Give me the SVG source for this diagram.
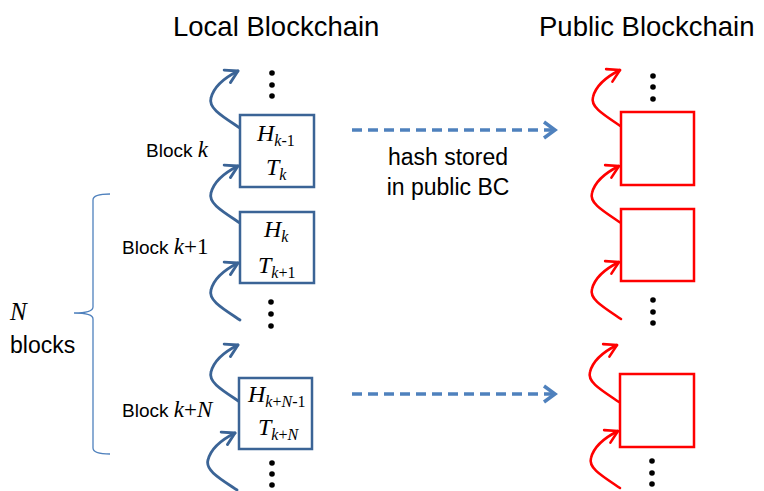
<svg xmlns="http://www.w3.org/2000/svg" width="764" height="491" viewBox="0 0 764 491">
<style>
.title{font-family:"Liberation Sans",Arial,sans-serif;font-size:27.5px;fill:#000}
.lbl{font-family:"Liberation Sans",Arial,sans-serif;font-size:19px;fill:#000}
.note{font-family:"Liberation Sans",Arial,sans-serif;font-size:23px;fill:#000}
.m{font-family:"Liberation Serif","Times New Roman",serif;font-style:italic;fill:#000}
.up{font-style:normal}
.lbox{fill:#fff;stroke:#3b6496;stroke-width:2.5}
.rbox{fill:#fff;stroke:#ff0000;stroke-width:2.5}
.bc{fill:none;stroke:#3b6496;stroke-width:2.8;stroke-linecap:round;marker-end:url(#ab)}
.rc{fill:none;stroke:#ff0000;stroke-width:2.6;stroke-linecap:round;marker-end:url(#ar)}
.dash{fill:none;stroke:#4f81bd;stroke-width:3.5;stroke-dasharray:10 6;marker-end:url(#ad)}
.brace{fill:none;stroke:#4f81bd;stroke-width:1.3}
</style>
<defs>
<marker id="ab" markerUnits="userSpaceOnUse" markerWidth="30" markerHeight="30" viewBox="-15 -15 30 30" refX="0" refY="0" orient="auto" overflow="visible">
<path d="M-12,-7 L0,0 L-12,7" fill="none" stroke="#3b6496" stroke-width="2.8" stroke-linecap="round" stroke-linejoin="round"/>
</marker>
<marker id="ar" markerUnits="userSpaceOnUse" markerWidth="30" markerHeight="30" viewBox="-15 -15 30 30" refX="0" refY="0" orient="auto" overflow="visible">
<path d="M-12,-7 L0,0 L-12,7" fill="none" stroke="#ff0000" stroke-width="2.6" stroke-linecap="round" stroke-linejoin="round"/>
</marker>
<marker id="ad" markerUnits="userSpaceOnUse" markerWidth="30" markerHeight="30" viewBox="-15 -15 30 30" refX="0" refY="0" orient="auto" overflow="visible">
<path d="M-11,-8 L0,0 L-11,8" fill="none" stroke="#4f81bd" stroke-width="3.5" stroke-linejoin="miter"/>
</marker>
</defs>

<text class="title" x="173" y="36">Local Blockchain</text>
<text class="title" x="539" y="36">Public Blockchain</text>

<g id="connectors">
<path class="bc" d="M240,128 c-18,-12 -32,-20 -29,-30 c3,-12 13,-20 27,-27"/>
<path class="bc" d="M240,223 c-18,-12 -32,-20 -29,-30 c3,-12 13,-20 27,-27"/>
<path class="bc" d="M240,320 c-18,-12 -32,-20 -29,-30 c3,-12 13,-20 27,-27"/>
<path class="bc" d="M240,402 c-18,-12 -32,-20 -29,-30 c3,-12 13,-20 27,-27"/>
<path class="bc" d="M237,490 c-18,-12 -32,-20 -29,-30 c3,-12 13,-20 27,-27"/>
<path class="rc" d="M622,127 c-18,-12 -32,-20 -29,-30 c3,-12 13,-20 27,-27"/>
<path class="rc" d="M621,223 c-18,-12 -32,-20 -29,-30 c3,-12 13,-20 27,-27"/>
<path class="rc" d="M621,319 c-18,-12 -32,-20 -29,-30 c3,-12 13,-20 27,-27"/>
<path class="rc" d="M619,402 c-18,-12 -32,-20 -29,-30 c3,-12 13,-20 27,-27"/>
<path class="rc" d="M620,488 c-18,-12 -32,-20 -29,-30 c3,-12 13,-20 27,-27"/>
<path class="dash" d="M352,130 L555,130"/>
<path class="dash" d="M352,394 L555,394"/>
</g>

<g id="dots">
<circle cx="272" cy="73" r="2.8"/><circle cx="272" cy="85" r="2.8"/><circle cx="272" cy="96" r="2.8"/>
<circle cx="271" cy="302" r="2.8"/><circle cx="271" cy="314" r="2.8"/><circle cx="271" cy="326" r="2.8"/>
<circle cx="272" cy="463" r="2.8"/><circle cx="272" cy="474" r="2.8"/><circle cx="272" cy="485" r="2.8"/>
<circle cx="653" cy="76" r="2.8"/><circle cx="653" cy="87" r="2.8"/><circle cx="653" cy="99" r="2.8"/>
<circle cx="653" cy="300" r="2.8"/><circle cx="653" cy="312" r="2.8"/><circle cx="653" cy="323" r="2.8"/>
<circle cx="652" cy="461" r="2.8"/><circle cx="652" cy="473" r="2.8"/><circle cx="652" cy="484" r="2.8"/>
</g>

<g id="block-k">
<rect class="lbox" x="240" y="115" width="74" height="72"/>
<text class="m" x="257" y="141" font-size="24">H<tspan font-size="16" dy="5">k</tspan><tspan class="up" font-size="16">-1</tspan></text>
<text class="m" x="266" y="175" font-size="24">T<tspan font-size="16" dy="5">k</tspan></text>
<text class="lbl" x="146" y="157">Block <tspan class="m" font-size="23">k</tspan></text>
</g>

<g id="block-k1">
<rect class="lbox" x="240" y="212" width="74" height="71"/>
<text class="m" x="264" y="237" font-size="24">H<tspan font-size="16" dy="5">k</tspan></text>
<text class="m" x="258" y="273" font-size="24">T<tspan font-size="16" dy="5">k<tspan class="up">+1</tspan></tspan></text>
<text class="lbl" x="122" y="254">Block <tspan class="m" font-size="23">k<tspan class="up">+1</tspan></tspan></text>
</g>

<g id="block-kN">
<rect class="lbox" x="239" y="378" width="73" height="71"/>
<text class="m" x="248" y="402" font-size="24">H<tspan font-size="16" dy="5">k<tspan class="up">+</tspan>N<tspan class="up">-1</tspan></tspan></text>
<text class="m" x="258" y="435" font-size="24">T<tspan font-size="16" dy="5">k<tspan class="up">+</tspan>N</tspan></text>
<text class="lbl" x="122" y="417">Block <tspan class="m" font-size="23">k<tspan class="up">+</tspan>N</tspan></text>
</g>

<g id="pub-1"><rect class="rbox" x="621" y="112" width="73" height="73"/></g>
<g id="pub-2"><rect class="rbox" x="621" y="209" width="73" height="72"/></g>
<g id="pub-3"><rect class="rbox" x="620" y="374" width="74" height="73"/></g>

<g id="hash-label">
<text class="note" x="448" y="165" text-anchor="middle">hash stored</text>
<text class="note" x="448" y="195" text-anchor="middle">in public BC</text>
</g>

<g id="n-blocks">
<path class="brace" d="M110,194 Q93,194 93,200 L93,307 Q93,313 74,313 Q93,313 93,319 L93,448 Q93,454 110,454"/>
<text class="m" x="10" y="320" font-size="25">N</text>
<text class="note" x="10" y="353">blocks</text>
</g>
</svg>
